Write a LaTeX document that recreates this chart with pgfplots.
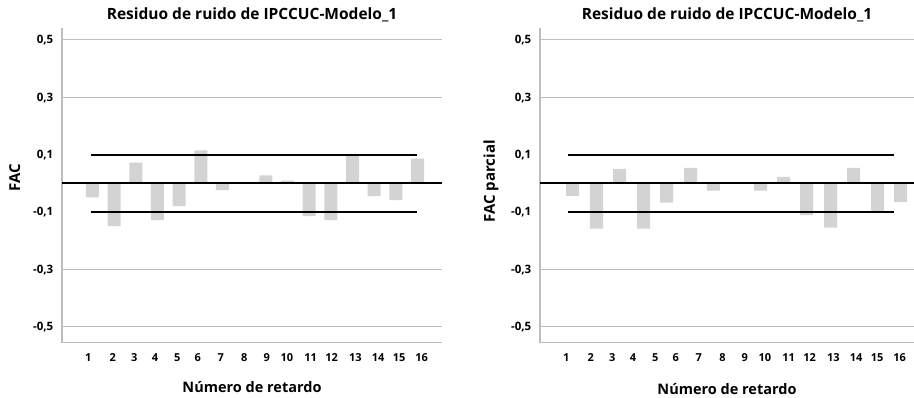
\documentclass[border=0pt]{standalone}
\usepackage{pgfplots}
\usepackage{pgfplotstable}
\pgfplotsset{compat=1.18}
\usepackage{fontspec}
\setmainfont{Open Sans}
\definecolor{gridgrey}{RGB}{190,190,190}
\definecolor{barfill}{RGB}{211,211,211}

% FAC (autocorrelation) of the noise residual, lags 1..16
\pgfplotstableread{
lag acf
1  -0.049
2  -0.150
3   0.072
4  -0.129
5  -0.080
6   0.114
7  -0.024
8   0.000
9   0.027
10  0.009
11 -0.115
12 -0.129
13  0.098
14 -0.045
15 -0.059
16  0.086
}\acf

% FAC parcial (partial autocorrelation); pos = where the bar is drawn in the reference
\pgfplotstableread{
lag pos pacf
1  1.093 -0.044
2  2.200 -0.158
3  3.262  0.050
4  4.369 -0.158
5  5.431 -0.068
6  6.538  0.053
7  7.599 -0.026
8  8.684  0.000
9  9.768 -0.026
10 10.830  0.022
11 11.891 -0.111
12 12.999 -0.155
13 14.060  0.053
14 15.168 -0.097
15 16.229 -0.065
}\pacf

\pgfplotsset{
  acfstyle/.style={
    scale only axis,
    height=314.7bp,
    ymin=-0.556, ymax=0.541,
    axis x line*=bottom, axis y line*=left,
    axis line style={-, draw=gridgrey, line width=1.2bp},
    major tick length=0pt,
    xtick={0.80,1.93,2.93,3.88,4.91,5.86,6.92,8.01,9.04,9.97,11.07,12.04,13.13,14.18,15.15,16.19},
    xticklabels={1,2,3,4,5,6,7,8,9,10,11,12,13,14,15,16},
    ytick={-0.5,-0.3,-0.1,0.1,0.3,0.5},
    yticklabels={{-0,5},{-0,3},{-0,1},{0,1},{0,3},{0,5}},
    extra y ticks={-0.5,-0.3,0.3,0.5},
    extra y tick labels={},
    extra y tick style={grid=major, major grid style={draw=gridgrey, line width=1bp}},
    xticklabel style={font=\bfseries\fontsize{11bp}{12bp}\selectfont, anchor=base, yshift=-18.5bp, inner sep=0pt},
    yticklabel style={font=\bfseries\fontsize{11.5bp}{12bp}\selectfont, anchor=base east, xshift=-8.5bp, yshift=-4bp, inner sep=0pt},
    title style={font=\bfseries\fontsize{15.5bp}{17bp}\selectfont, at={(0.5,1)}, anchor=base, yshift=3bp, inner sep=0pt},
    xlabel style={font=\bfseries\fontsize{14.5bp}{16bp}\selectfont, at={(axis description cs:0.5,0)}, anchor=base, yshift=-50bp, inner sep=0pt},
    ylabel style={font=\bfseries\fontsize{15bp}{17bp}\selectfont, anchor=center, inner sep=0pt},
  }
}

\begin{document}
\begin{tikzpicture}
\path[use as bounding box] (0,0) rectangle (914bp,398bp);

\begin{axis}[acfstyle,
  at={(62bp,55.3bp)}, anchor=south west,
  width=380bp, xmin=-0.407, xmax=17.13,
  title={Residuo de ruido de IPCCUC-Modelo\_1},
  xlabel={Número de retardo},
  ylabel={FAC},
  ylabel style={at={(axis description cs:-0.124,0.523)}},
]
\addplot[ybar, bar width=0.6, fill=barfill, draw=none] table[x=lag, y=acf] {\acf};
\addplot[black, line width=2.4bp] coordinates {(-0.407,0) (17.13,0)};
\addplot[black, line width=2bp] coordinates {(0.93,0.1) (15.96,0.1)};
\addplot[black, line width=2bp] coordinates {(0.93,-0.1) (15.96,-0.1)};
\end{axis}

\begin{axis}[acfstyle,
  at={(540bp,55.3bp)}, anchor=south west,
  width=374bp, xmin=-0.407, xmax=16.852,
  title={Residuo de ruido de IPCCUC-Modelo\_1},
  xlabel={Número de retardo},
  xlabel style={yshift=-1.6bp},
  ylabel={FAC parcial},
  ylabel style={at={(axis description cs:-0.131,0.512)}},
]
\addplot[ybar, bar width=0.6, fill=barfill, draw=none] table[x=pos, y=pacf] {\pacf};
\addplot[black, line width=2.4bp] coordinates {(-0.407,0) (16.852,0)};
\addplot[black, line width=2bp] coordinates {(0.90,0.1) (15.93,0.1)};
\addplot[black, line width=2bp] coordinates {(0.90,-0.1) (15.93,-0.1)};
\end{axis}
\end{tikzpicture}
\end{document}
